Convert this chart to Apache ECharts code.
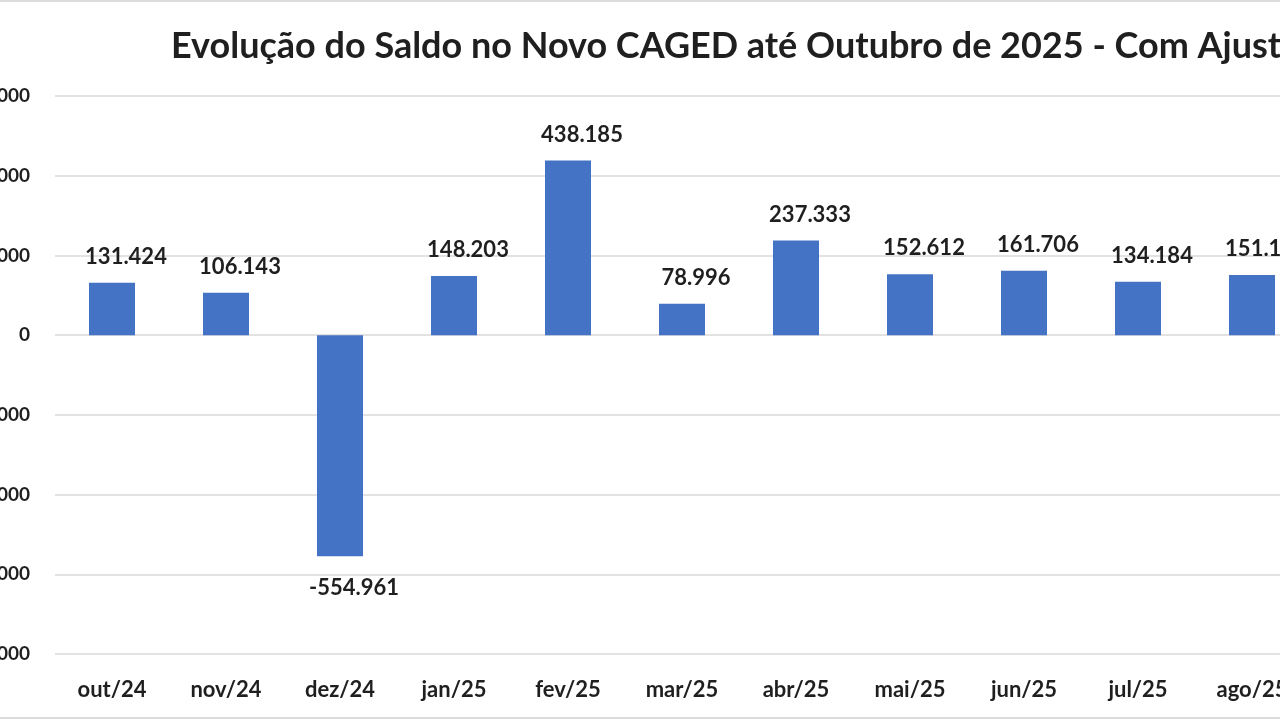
<!DOCTYPE html>
<html><head><meta charset="utf-8">
<script src="https://cdn.jsdelivr.net/npm/echarts@6/dist/echarts.min.js"></script>
<style>
html,body{margin:0;padding:0;width:1280px;height:720px;overflow:hidden;background:#fff;}
#frame{position:absolute;left:0;top:0;width:1280px;height:720px;overflow:hidden;}
#chart{position:absolute;left:-100px;top:0;width:1500px;height:720px;}
#bt{position:absolute;left:0;top:0;width:1280px;height:2px;background:#dcdcdc;}
#bb{position:absolute;left:0;top:717px;width:1280px;height:2px;background:#dcdcdc;}
</style></head>
<body>
<div id="frame"><div id="chart"></div><div id="bt"></div><div id="bb"></div></div>
<script>
const titleText = 'Evolução do Saldo no Novo CAGED até Outubro de 2025 - Com Ajuste';
const categories = ['out/24','nov/24','dez/24','jan/25','fev/25','mar/25','abr/25','mai/25','jun/25','jul/25','ago/25'];
const saldo = [131424, 106143, -554961, 148203, 438185, 78996, 237333, 152612, 161706, 134184, 151120];
const yMin = -800000, yMax = 600000, yStep = 200000;

function fmt(v){
  const s = Math.abs(Math.round(v)).toString().replace(/\B(?=(\d{3})+(?!\d))/g,'.');
  return (v<0?'-':'') + s;
}
const font = 'Lato, "Open Sans", sans-serif';
const chart = echarts.init(document.getElementById('chart'));
chart.setOption({
  animation:false,
  title:{text:titleText,left:266,top:23,textStyle:{fontFamily:font,fontSize:36,fontWeight:'bold',color:'#1f1f1f'}},
  grid:{left:155,right:91,top:96,bottom:66,containLabel:false},
  xAxis:{type:'category',data:categories,axisLine:{show:false},axisTick:{show:false},
    axisLabel:{margin:25,fontFamily:font,fontSize:22,fontWeight:'bold',color:'#1f1f1f'}},
  yAxis:{type:'value',min:yMin,max:yMax,interval:yStep,
    axisLabel:{margin:25,formatter:fmt,fontFamily:font,fontSize:19,fontWeight:'bold',color:'#1f1f1f'},
    splitLine:{lineStyle:{color:'#d9d9d9',width:1.5}},axisLine:{show:false},axisTick:{show:false}},
  series:[{type:'bar',data:saldo.map(v=>({value:v,label:{position:v<0?'bottom':'top',distance:v<0?21:15}})),
    barWidth:46,itemStyle:{color:'#4472C4'},
    label:{show:true,formatter:p=>fmt(p.value),offset:[14,0],fontFamily:font,fontSize:22,fontWeight:'bold',color:'#1f1f1f'}}]
});
</script>
</body></html>
